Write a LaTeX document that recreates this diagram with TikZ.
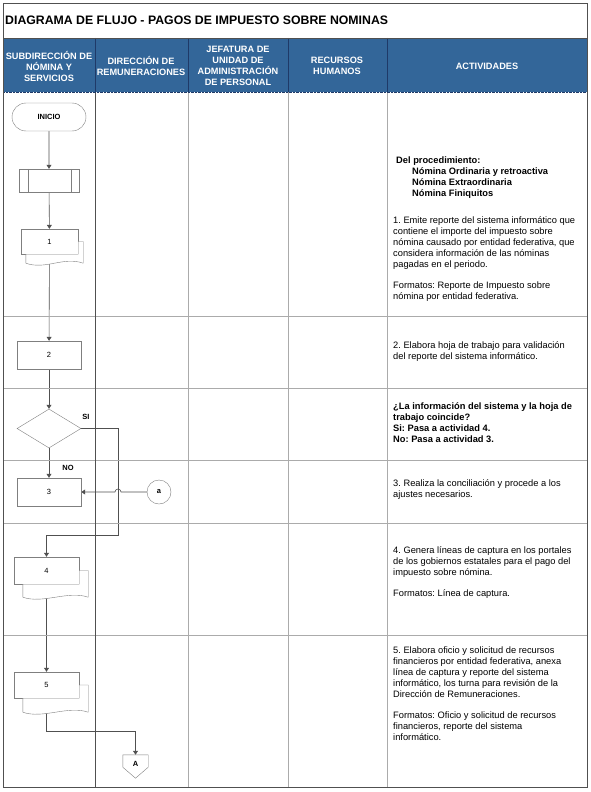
\documentclass[tikz,border=0pt]{standalone}
\usepackage{fontspec}
\setmainfont{Liberation Sans}
\usepackage{tikz}
\usetikzlibrary{arrows.meta, positioning, shapes.geometric, shapes.misc, calc, backgrounds}
\definecolor{HeadBlue}{HTML}{336699}
\definecolor{HeadLine}{HTML}{1F3A68}
\definecolor{GridGray}{HTML}{ABABAB}
\definecolor{DarkGray}{HTML}{505050}
\definecolor{ShapeGray}{HTML}{7F7F7F}
\frenchspacing

\tikzset{
  shapebox/.style={draw=ShapeGray, fill=white, inner sep=0pt, font=\fontsize{7.5}{8}\selectfont},
  procbox/.style={shapebox, rectangle, minimum width=64pt, minimum height=28pt},
  flow/.style={draw=DarkGray, line width=0.6pt, -{Triangle[length=4pt,width=5pt]}},
  headtxt/.style={text=white, align=center, font=\fontsize{9.2}{11}\selectfont\bfseries},
  acttxt/.style={anchor=west, align=left, inner sep=0pt, font=\fontsize{9.3}{11}\selectfont},
  flowlbl/.style={inner sep=0pt, font=\fontsize{7.5}{8}\selectfont\bfseries}
}

% second page behind a document box: node, right offset, bottom offset
\newcommand{\docpages}[3]{%
  \filldraw[draw=ShapeGray, fill=white]
    (#1.east) -- ++(#2,0) -- ($(#1.south east)+(#2,#3)$)
    .. controls +(-20,-7) and +(20,7) .. ($(#1.south west)+(#2,#3)$)
    -- ($(#1.south west)+(#2,0)$) -- (#1.south east) -- cycle;
}

\begin{document}
\begin{tikzpicture}[x=1pt, y=-1pt]
  \useasboundingbox (0,0) rectangle (590,792);

  % table
  \fill[HeadBlue] (3,38) rectangle (587,92);
  \foreach \y in {316,388,460,523,635}
    \draw[GridGray] (3,\y) -- (587,\y);
  \draw[DarkGray] (95,92) -- (95,787);
  \foreach \x in {188,288,387}
    \draw[GridGray] (\x,92) -- (\x,787);
  \foreach \x in {95,188,288,387}
    \draw[HeadLine] (\x,38) -- (\x,92);
  \draw[HeadLine, densely dotted] (3,92) -- (587,92);
  \draw[DarkGray] (3,3) rectangle (587,787);
  \draw[DarkGray] (3,38) -- (587,38);

  \node[anchor=west, inner sep=0pt, font=\fontsize{12.3}{14}\selectfont\bfseries] (title) at (5,20)
    {DIAGRAMA DE FLUJO - PAGOS DE IMPUESTO SOBRE NOMINAS};

  \node[headtxt] (h1) at (49,66) {SUBDIRECCIÓN DE\\NÓMINA Y\\SERVICIOS};
  \node[headtxt] (h2) at (141,66) {DIRECCIÓN DE\\REMUNERACIONES};
  \node[headtxt] (h3) at (238,66) {JEFATURA DE\\UNIDAD DE\\ADMINISTRACIÓN\\DE PERSONAL};
  \node[headtxt] (h4) at (337,66) {RECURSOS\\HUMANOS};
  \node[headtxt] (h5) at (487,66) {ACTIVIDADES};

  % flow shapes
  \node[shapebox, rounded rectangle, minimum width=74pt, minimum height=28pt,
        font=\fontsize{7.5}{8}\selectfont\bfseries] (ini) at (49,117) {INICIO};
  \node[shapebox, minimum width=60pt, minimum height=23pt] (sp) at (49,180.5) {};
  \draw[ShapeGray] ($(sp.north west)+(9,0)$) -- ($(sp.south west)+(9,0)$)
                   ($(sp.north east)+(-8,0)$) -- ($(sp.south east)+(-8,0)$);
  \node[shapebox, minimum width=57pt, minimum height=25pt] (d1) at (49.5,241.5) {1};
  \node[procbox] (b2) at (49,355) {2};
  \node[shapebox, diamond, minimum width=64pt, minimum height=39pt] (dec) at (49,428.5) {};
  \node[procbox] (b3) at (49,492) {3};
  \node[shapebox, circle, minimum size=24pt, font=\fontsize{7.5}{8}\selectfont\bfseries] (ca) at (159,492) {a};
  \node[shapebox, minimum width=65pt, minimum height=27pt] (d4) at (46.5,570.5) {4};
  \node[shapebox, minimum width=65pt, minimum height=26pt] (d5) at (46.5,685) {5};
  \node[inner sep=0pt, minimum width=25pt, minimum height=12pt] (offA) at (135.5,761) {};
  \draw[ShapeGray, fill=white] (offA.north west) -- (offA.north east) -- (offA.south east)
    -- ($(offA.south)+(0,11)$) -- (offA.south west) -- cycle;
  \node[flowlbl] at ($(offA)+(0,3)$) {A};

  \docpages{d1}{5}{9}
  \docpages{d4}{9}{13}
  \docpages{d5}{9}{14}

  \coordinate (j1) at (118,535);

  \begin{scope}[on background layer]
    \draw[flow] (ini) -- (sp);
    \draw[flow] (sp) -- (d1);
    \draw[flow] (d1) -- (b2);
    \draw[flow] (b2) -- (dec);
    \draw[flow] (dec) -- (b3);
    \draw[flow] (dec.east) -| (j1) -| (d4.north);
    \draw[flow] (ca.west) -- ($(ca.west -| j1)+(3,0)$)
      arc[start angle=0, end angle=180, radius=3pt] -- (b3.east);
    \draw[flow] (d4) -- (d5);
    \draw[flow] (d5.south) -- ++(0,33) -| (offA.north);
  \end{scope}

  \node[flowlbl] (si) at (86,417) {SI};
  \node[flowlbl] (no) at (68,468) {NO};

  % activities
  \node[acttxt] (a0) at (393,177.5)
    {\hspace*{3pt}\textbf{Del procedimiento:}\\
     \hspace*{19pt}\textbf{Nómina Ordinaria y retroactiva}\\
     \hspace*{19pt}\textbf{Nómina Extraordinaria}\\
     \hspace*{19pt}\textbf{Nómina Finiquitos}};
  \node[acttxt] (a1) at (393,259.5)
    {1. Emite reporte del sistema informático que\\
     contiene el importe del impuesto sobre\\
     nómina causado por entidad federativa, que\\
     considera información de las nóminas\\
     pagadas en el periodo.\\[10pt]
     Formatos: Reporte de Impuesto sobre\\
     nómina por entidad federativa.};
  \node[acttxt] (a2) at (393,351.5)
    {2. Elabora hoja de trabajo para validación\\
     del reporte del sistema informático.};
  \node[acttxt, font=\fontsize{9.3}{11}\selectfont\bfseries] (ad) at (393,422.5)
    {¿La información del sistema y la hoja de\\
     trabajo coincide?\\
     Si: Pasa a actividad 4.\\
     No: Pasa a actividad 3.};
  \node[acttxt] (a3) at (393,489.5)
    {3. Realiza la conciliación y procede a los\\
     ajustes necesarios.};
  \node[acttxt] (a4) at (393,572.5)
    {4. Genera líneas de captura en los portales\\
     de los gobiernos estatales para el pago del\\
     impuesto sobre nómina.\\[10pt]
     Formatos: Línea de captura.};
  \node[acttxt] (a5) at (393,693.5)
    {5. Elabora oficio y solicitud de recursos\\
     financieros por entidad federativa, anexa\\
     línea de captura y reporte del sistema\\
     informático, los turna para revisión de la\\
     Dirección de Remuneraciones.\\[10pt]
     Formatos: Oficio y solicitud de recursos\\
     financieros, reporte del sistema\\
     informático.};
\end{tikzpicture}
\end{document}
